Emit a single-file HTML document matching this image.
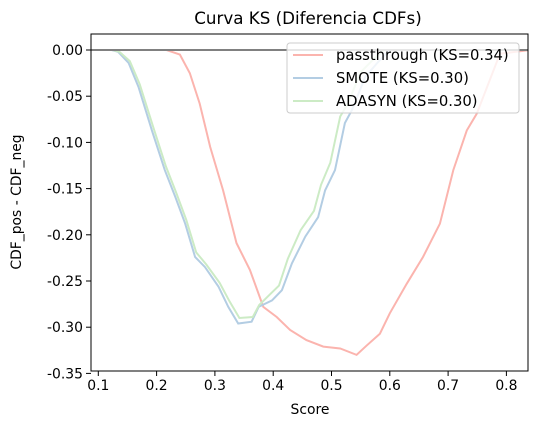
<!DOCTYPE html>
<html><head><meta charset="utf-8"><style>
body{margin:0;background:#fff;font-family:"Liberation Sans","DejaVu Sans",sans-serif}
svg text{font-family:"DejaVu Sans","Liberation Sans",sans-serif}
</style></head><body>
<svg id="c" width="538" height="429"></svg>
<script>
const xTicks=[0.1,0.2,0.3,0.4,0.5,0.6,0.7,0.8];
const yTicks=[0,-0.05,-0.10,-0.15,-0.20,-0.25,-0.30,-0.35];
const passX=[0.09,0.217,0.240,0.257,0.274,0.292,0.314,0.337,0.360,0.383,0.406,0.429,0.457,0.486,0.515,0.543,0.560,0.583,0.600,0.629,0.657,0.686,0.709,0.732,0.749,0.789,0.84];
const passY=[0,0,-0.005,-0.025,-0.058,-0.105,-0.152,-0.209,-0.238,-0.278,-0.289,-0.303,-0.314,-0.321,-0.323,-0.330,-0.320,-0.307,-0.285,-0.253,-0.224,-0.188,-0.130,-0.087,-0.069,-0.004,0];
const smoteX=[0.09,0.123,0.134,0.152,0.169,0.192,0.214,0.232,0.249,0.266,0.283,0.306,0.323,0.340,0.363,0.375,0.398,0.415,0.432,0.455,0.477,0.489,0.506,0.523,0.535,0.558,0.580,0.60];
const smoteY=[0,0,-0.002,-0.014,-0.040,-0.087,-0.130,-0.159,-0.188,-0.224,-0.235,-0.256,-0.278,-0.296,-0.294,-0.278,-0.271,-0.260,-0.231,-0.202,-0.181,-0.152,-0.130,-0.079,-0.065,-0.029,-0.013,0];
const adaX=[0.09,0.125,0.136,0.154,0.171,0.194,0.216,0.234,0.251,0.268,0.285,0.308,0.325,0.342,0.365,0.376,0.392,0.410,0.425,0.447,0.470,0.482,0.498,0.515,0.528,0.550,0.572,0.59];
const adaY=[0,0,-0.002,-0.012,-0.037,-0.083,-0.126,-0.155,-0.184,-0.219,-0.232,-0.252,-0.272,-0.290,-0.289,-0.276,-0.266,-0.255,-0.226,-0.195,-0.174,-0.146,-0.122,-0.072,-0.058,-0.024,-0.010,0];
const L=91,R=528,T=34,B=371;
const sx=v=>98.3+(v-0.1)*583;
const sy=v=>50-v*924;
const svg=document.getElementById('c');const NS='http://www.w3.org/2000/svg';
function mk(t,a,p){const e=document.createElementNS(NS,t);for(const k in a)e.setAttribute(k,a[k]);(p||svg).appendChild(e);return e;}
const clip=mk('clipPath',{id:'cp'});mk('rect',{x:L,y:T,width:R-L,height:B-T},clip);
const t=mk('text',{x:308,y:24,'font-size':16.7,'text-anchor':'middle'});t.textContent='Curva KS (Diferencia CDFs)';

xTicks.forEach(v=>{const x=sx(v);mk('line',{x1:x,x2:x,y1:B,y2:B+5,stroke:'#000'});
const e=mk('text',{x:x,y:B+19,'font-size':13.9,'text-anchor':'middle'});e.textContent=v.toFixed(1);
});
yTicks.forEach(v=>{const y=sy(v);mk('line',{x1:L-5,x2:L,y1:y,y2:y,stroke:'#000'});
const e=mk('text',{x:L-8,y:y+5,'font-size':13.9,'text-anchor':'end'});e.textContent=(v===0?'0.00':v.toFixed(2));
});
const xl=mk('text',{x:310,y:414,'font-size':13.9,'text-anchor':'middle'});xl.textContent='Score';

const yl=mk('text',{x:21,y:202,'font-size':13.9,'text-anchor':'middle',transform:'rotate(-90 21 202)'});yl.textContent='CDF_pos - CDF_neg';

const g=mk('g',{'clip-path':'url(#cp)'});
function line(xs,ys,c,n){const d=xs.map((x,i)=>(i?'L':'M')+sx(x).toFixed(1)+','+sy(ys[i]).toFixed(1)).join('');
const p=mk('path',{d:d,fill:'none',stroke:c,'stroke-width':2},g);}
line(passX,passY,'#fbb4ae','passthrough-line');
line(smoteX,smoteY,'#b3cde3','smote-line');
line(adaX,adaY,'#ccebc5','adasyn-line');
const z=mk('line',{x1:L,x2:R,y1:sy(0),y2:sy(0),stroke:'#808080','stroke-width':2});

mk('rect',{x:L,y:T,width:R-L,height:B-T,fill:'none',stroke:'#000','stroke-width':1});
const lg=mk('g',{});
mk('rect',{x:287,y:43,width:232,height:70,rx:3,fill:'rgba(255,255,255,0.8)',stroke:'#ccc'},lg);
[['passthrough (KS=0.34)','#fbb4ae'],['SMOTE (KS=0.30)','#b3cde3'],['ADASYN (KS=0.30)','#ccebc5']].forEach((e,i)=>{
const y=55+i*23;mk('line',{x1:293,x2:323,y1:y,y2:y,stroke:e[1],'stroke-width':2},lg);
const tx=mk('text',{x:336,y:y+5,'font-size':14.8},lg);tx.textContent=e[0];
});
</script></body></html>
